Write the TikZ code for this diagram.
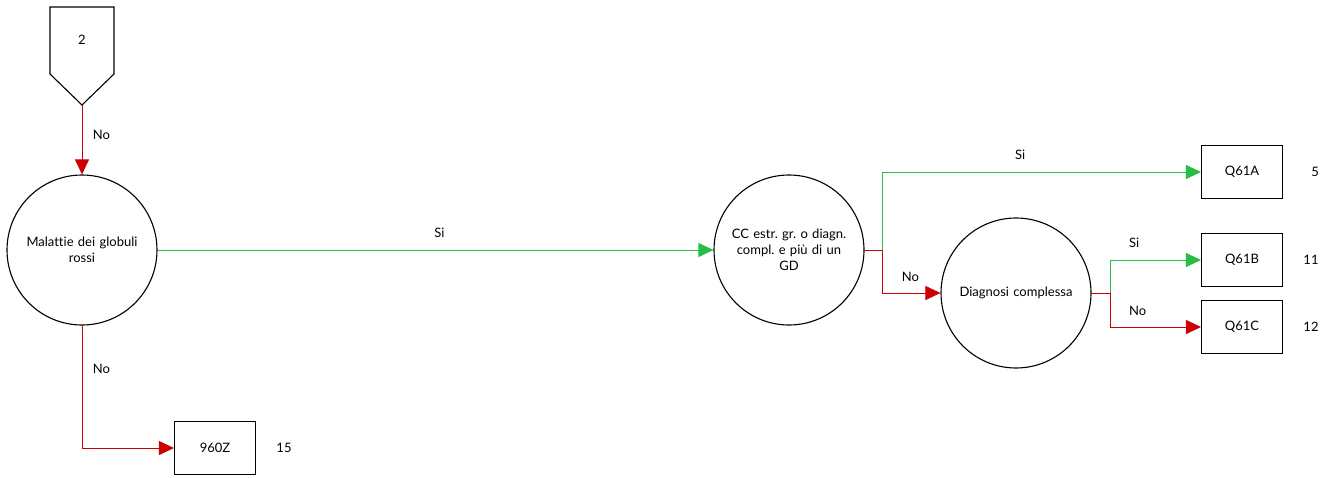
\documentclass[tikz,border=0pt]{standalone}
\usepackage{fontspec}
\setmainfont{Lato}[Ligatures=NoCommon]
\usetikzlibrary{arrows.meta, shapes.geometric}
\frenchspacing

\definecolor{sigreen}{RGB}{40,190,70}
\definecolor{nored}{RGB}{204,0,0}

\tikzset{
    decision/.style = {circle, draw, line width=1.1pt, minimum size=150pt, inner sep=0pt, align=center, text width=130pt},
    leaf/.style = {rectangle, draw, line width=1.1pt, minimum width=81pt, minimum height=53pt, inner sep=0pt},
    yes/.style = {draw=sigreen, line width=0.9pt, -{Triangle[length=15pt, width=14pt]}, sigreen},
    no/.style = {draw=nored, line width=0.9pt, -{Triangle[length=15pt, width=14pt]}, nored},
    branch/.style = {text=black},
    count/.style = {}
}

\begin{document}
\begin{tikzpicture}[x=1pt, y=-1pt, font=\fontsize{13}{16}\selectfont]
    \useasboundingbox (0,0) rectangle (1340,477);
    % start
    \draw[line width=1.1pt] (50,7) -- (114,7) -- (114,74) -- (82,105) -- (50,74) -- cycle;
    \coordinate (start) at (82,105);
    \node (startlbl) at (82,40) {2};

    % decision nodes
    \node[decision] (globuli) at (82,250) {Malattie dei globuli\\rossi};
    \node[decision] (ccestr) at (789,250) {CC estr. gr. o diagn.\\compl. e più di un\\GD};
    \node[decision] (complessa) at (1016,293) {Diagnosi complessa};

    % leaves
    \node[leaf] (q61a) at (1242,172) {Q61A};
    \node[leaf] (q61b) at (1242,260) {Q61B};
    \node[leaf] (q61c) at (1242,327) {Q61C};
    \node[leaf] (z960) at (215,448) {960Z};

    \node[count] (n5) at (1315,172) {5};
    \node[count] (n11) at (1311,260) {11};
    \node[count] (n12) at (1311,327) {12};
    \node[count] (n15) at (284,448) {15};

    % connectors
    \draw[no] (start) -- (globuli.north) node[branch, pos=0.43, right=7pt] {No};
    \draw[yes] (globuli.east) -- (ccestr.west) node[branch, pos=0.507, above=9pt] {Si};
    \draw[no] (globuli.south) |- (z960.west) node[branch, pos=0.175, right=7pt] {No};

    \draw[yes] (ccestr.east) -- ++(18,0) |- (q61a.west) node[branch, pos=0.716, above=9pt] {Si};
    \draw[no] (ccestr.east) -- ++(18,0) |- (complessa.west) node[branch, pos=0.74, above=8pt] {No};

    \draw[yes] (complessa.east) -- ++(19,0) |- (q61b.west) node[branch, pos=0.63, above=9pt] {Si};
    \draw[no] (complessa.east) -- ++(19,0) |- (q61c.west) node[branch, pos=0.65, above=8pt] {No};
\end{tikzpicture}
\end{document}
